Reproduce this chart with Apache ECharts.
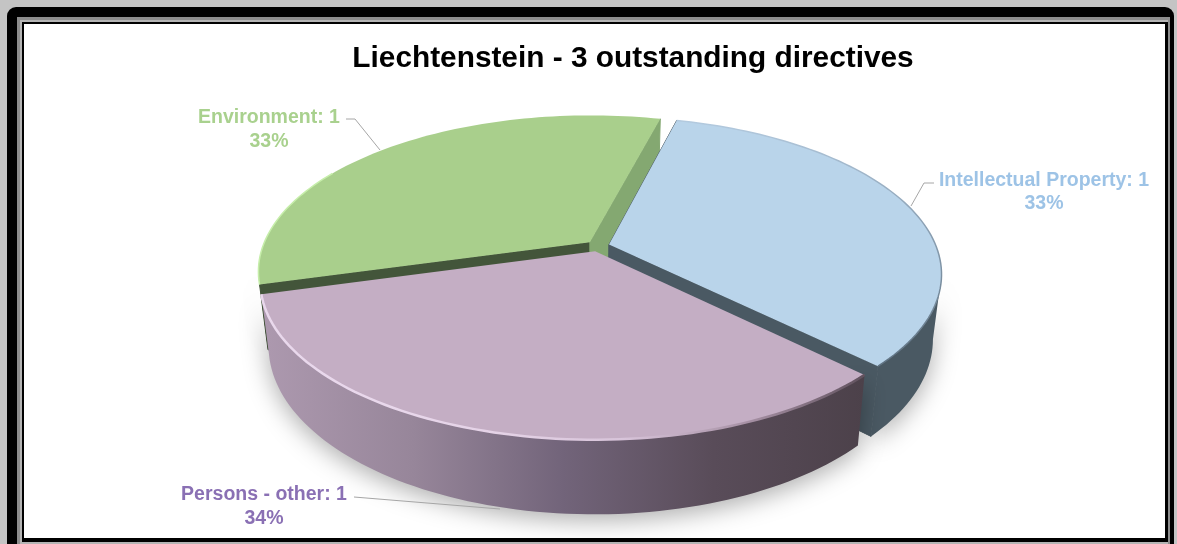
<!DOCTYPE html>
<html>
<head>
<meta charset="utf-8">
<title>Liechtenstein - 3 outstanding directives</title>
<script src="https://cdn.jsdelivr.net/npm/echarts@6/dist/echarts.min.js"></script>
<style>
html, body { margin: 0; padding: 0; background: #fff; }
#myChart { width: 1177px; height: 544px; }
</style>
</head>
<body>
<div id="myChart"></div>
<script>
// values, clockwise from the gap at the back
const categories = ['Intellectual Property', 'Persons - other', 'Environment'];
const counts = [1, 1, 1];
const percents = [33, 34, 33];

// back to front, so the purple slice ends up on top
const drawOrder = [2, 0, 1];

const topColors = ['#b9d4ea', '#c4aec4', '#a9cf8c'];
const labelColors = ['#9dc3e6', '#8a70b4', '#a9d18e'];
const cutColors = [
    { start: '#4a5963', end: '#4a5963' },
    null,
    { start: '#43553a', end: '#84a871' }
];
const wallColors = [
    ['#4a5963', '#4a5963'],
    ['#ad99af', '#97869a', '#72647a', '#594c59', '#4c414a'],
    ['#43553a', '#43553a']
];

// label centre and leader line of each slice, in px
const labelPos = [[1044, 192.25], [264, 506.75], [269, 129.75]];
const leaders = [
    [[934, 183], [924, 183], [911, 206]],
    [[354, 497], [500, 509]],
    [[346, 119], [355, 119], [380, 150]]
];

// pie projection: a tilted circle seen in perspective
const pie = { x: 598, y: 246, rx: 327, ry: 151.6, k: 0.1847, explode: 0.035, startAngle: 14.5 };
const wallFront = [101, 259];

const total = counts.reduce((a, b) => a + b, 0);
let acc = pie.startAngle;
const slices = counts.map(c => {
    const from = acc;
    acc += c / total * 360;
    return { from: from, to: acc };
});

function project(theta, r, bottom, s) {
    const mid = (s.from + s.to) / 2 * Math.PI / 180;
    const t = theta * Math.PI / 180;
    const u = r * Math.sin(t) + pie.explode * Math.sin(mid);
    const v = r * Math.cos(t) + pie.explode * Math.cos(mid);
    const w = 1 + pie.k * v;
    let x = pie.x + pie.rx * u / w;
    let y = pie.y - pie.ry * v / w;
    if (bottom) {
        x = pie.x + (x - pie.x) * 0.975;
        y = pie.y + (y - pie.y) * 1.06 + 63;
    }
    return [x, y];
}

function arc(from, to, bottom, s) {
    const pts = [];
    const n = Math.max(2, Math.ceil(Math.abs(to - from) / 1.5));
    for (let i = 0; i <= n; i++) {
        pts.push(project(from + (to - from) * i / n, 1, bottom, s));
    }
    return pts;
}

function cutFace(theta, s, color) {
    return {
        type: 'polygon',
        shape: { points: [project(theta, 0, false, s), project(theta, 1, false, s), project(theta, 1, true, s), project(theta, 0, true, s)] },
        style: { fill: color, stroke: color, lineWidth: 1 }
    };
}

function hGradient(stops) {
    return new echarts.graphic.LinearGradient(0, 0, 1, 0,
        stops.map((c, i) => ({ offset: i / (stops.length - 1), color: c })));
}

function renderSlice(params, api) {
    const i = api.value(0);
    const s = slices[i];
    const children = [];

    const a = Math.max(s.from, wallFront[0]);
    const b = Math.min(s.to, wallFront[1]);
    if (a < b) {
        children.push({
            type: 'polygon',
            shape: { points: arc(a, b, false, s).concat(arc(b, a, true, s)) },
            style: {
                fill: hGradient(wallColors[i]),
                shadowBlur: 24,
                shadowOffsetY: 6,
                shadowColor: 'rgba(0,0,0,0.32)'
            }
        });
    }
    if (cutColors[i]) {
        children.push(cutFace(s.from, s, cutColors[i].start));
        children.push(cutFace(s.to, s, cutColors[i].end));
    }

    children.push({
        type: 'polygon',
        shape: { points: [project(s.from, 0, false, s)].concat(arc(s.from, s.to, false, s)) },
        style: { fill: topColors[i] }
    });

    // bevel along the rim
    if (i === 0) {
        children.push({
            type: 'polyline',
            shape: { points: arc(s.from, s.to, false, s) },
            style: {
                fill: 'none',
                lineWidth: 1.5,
                stroke: new echarts.graphic.LinearGradient(0, 0, 0, 1, [
                    { offset: 0, color: '#b4cbe0' },
                    { offset: 0.4, color: '#8ea3b6' },
                    { offset: 1, color: '#5f7282' }
                ])
            }
        });
    } else if (i === 1) {
        children.push({
            type: 'polyline',
            shape: { points: arc(s.from, s.to, false, s) },
            style: {
                fill: 'none',
                lineWidth: 2.5,
                stroke: hGradient(['#e9d8ec', '#e9d8ec', '#e4d2e6', '#d8c4da', '#a892a6', '#5f505c'])
            }
        });
    } else {
        children.push({
            type: 'polyline',
            shape: { points: arc(s.from, 300, false, s) },
            style: { fill: 'none', lineWidth: 1.5, stroke: '#c6eeaa' }
        });
    }

    children.push({
        type: 'polyline',
        shape: { points: leaders[i] },
        style: { fill: 'none', stroke: '#a6a6a6', lineWidth: 1 }
    });
    children.push({
        type: 'text',
        style: {
            text: categories[i] + ': ' + counts[i] + '\n' + percents[i] + '%',
            x: labelPos[i][0],
            y: labelPos[i][1],
            fill: labelColors[i],
            font: 'bold 19.5px "Liberation Sans"',
            lineHeight: 23.5,
            align: 'center',
            verticalAlign: 'middle'
        }
    });
    return { type: 'group', children: children };
}

function frameRect(x, y, w, h, fill, r) {
    return { type: 'rect', shape: { x: x, y: y, width: w, height: h, r: r || 0 }, style: { fill: fill }, silent: true };
}

let myChart = echarts.init(document.getElementById('myChart'));
myChart.setOption({
    animation: false,
    backgroundColor: '#c4c4c4',
    title: {
        text: 'Liechtenstein - 3 outstanding directives',
        left: 628,
        top: 39,
        textAlign: 'center',
        textStyle: { fontFamily: 'Liberation Sans', fontWeight: 'bold', fontSize: 29.8, color: '#000' }
    },
    graphic: [
        frameRect(7, 7, 1167, 560, '#000', 9),
        frameRect(17, 17, 1153, 560, '#8c8c8c'),
        frameRect(20, 20, 1148, 560, '#b4b4b4'),
        frameRect(22, 22, 1146, 520, '#000'),
        frameRect(24, 24, 1141, 514, '#fff')
    ],
    series: [{
        type: 'custom',
        coordinateSystem: 'none',
        silent: true,
        data: drawOrder.map(i => [i]),
        renderItem: renderSlice
    }]
});
</script>
</body>
</html>
